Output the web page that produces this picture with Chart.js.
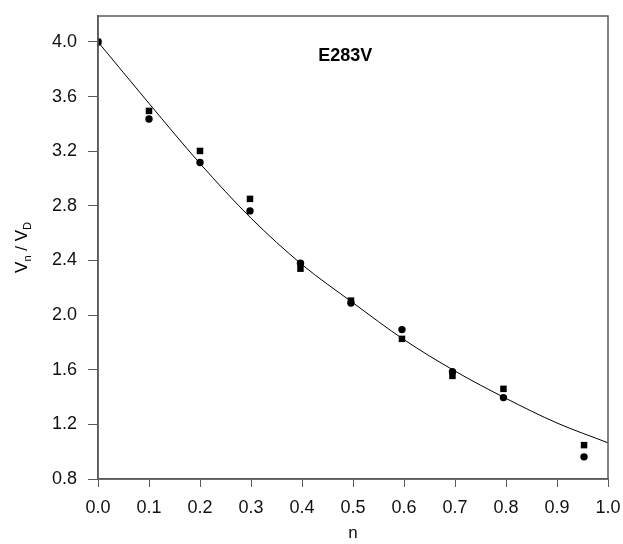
<!DOCTYPE html>
<html>
<head>
<meta charset="utf-8">
<script src="https://cdn.jsdelivr.net/npm/chart.js@4"></script>
<style>
  html, body { margin: 0; padding: 0; background: #fff; }
  #wrap { width: 623px; height: 544px; }
</style>
</head>
<body>
<div id="wrap"><canvas id="chart"></canvas></div>
<script>
// ── data ───────────────────────────────────────────────────────────
const nPoints = [0, 0.1, 0.2, 0.298, 0.397, 0.496, 0.596, 0.695, 0.795, 0.953];
const squares = [4.0, 3.495, 3.202, 2.851, 2.34, 2.106, 1.826, 1.555, 1.46, 1.048];
const circles = [4.0, 3.436, 3.117, 2.763, 2.38, 2.089, 1.894, 1.586, 1.396, 0.962];
const fitN = [0, 0.1, 0.2, 0.3, 0.4, 0.5, 0.6, 0.7, 0.8, 0.9, 1.0];
const fitV = [4.0, 3.55, 3.11, 2.71, 2.37, 2.09, 1.82, 1.59, 1.39, 1.21, 1.065];
const xTicks = [0, 0.1, 0.2, 0.3, 0.4, 0.5, 0.6, 0.7, 0.8, 0.9, 1.0];
const yTicks = [0.8, 1.2, 1.6, 2.0, 2.4, 2.8, 3.2, 3.6, 4.0];
const label = "E283V";

const FONT = "'Liberation Sans', Arial, sans-serif";
const AXIS = "#5a5a5a";
const pts = (xs, ys) => xs.map((x, i) => ({ x, y: ys[i] }));

// box on all four sides + panel label + y title with subscripts
const decor = {
  id: "decor",
  afterDraw(chart) {
    const { ctx, chartArea: a, scales } = chart;
    ctx.save();
    ctx.strokeStyle = AXIS;
    ctx.lineWidth = 1.5;
    ctx.strokeRect(a.left, a.top, a.right - a.left, a.bottom - a.top);

    ctx.fillStyle = "#000";
    ctx.font = "bold 18px " + FONT;
    ctx.textAlign = "center";
    ctx.textBaseline = "middle";
    ctx.fillText(label, scales.x.getPixelForValue(0.485), scales.y.getPixelForValue(3.895));

    // V_n / V_D, rotated
    ctx.translate(27, (a.top + a.bottom) / 2);
    ctx.rotate(-Math.PI / 2);
    const parts = [["V", 17, 0], ["n", 11, 4], [" / V", 17, 0], ["D", 11, 4]];
    let w = 0;
    parts.forEach(([t, s]) => { ctx.font = s + "px " + FONT; w += ctx.measureText(t).width; });
    let x = -w / 2;
    ctx.textAlign = "left";
    ctx.textBaseline = "alphabetic";
    parts.forEach(([t, s, dy]) => {
      ctx.font = s + "px " + FONT;
      ctx.fillText(t, x, dy);
      x += ctx.measureText(t).width;
    });
    ctx.restore();
  },
};

new Chart(document.getElementById("chart"), {
  type: "scatter",
  data: {
    datasets: [
      { label: "fit", type: "line", data: pts(fitN, fitV), borderColor: "#000", borderWidth: 1,
        pointRadius: 0, cubicInterpolationMode: "monotone", fill: false },
      { label: "squares", data: pts(nPoints, squares), pointStyle: "rect", pointRadius: 4.6,
        backgroundColor: "#000", borderColor: "#000", borderWidth: 0 },
      { label: "circles", data: pts(nPoints, circles), pointStyle: "circle", pointRadius: 3.7,
        backgroundColor: "#000", borderColor: "#000", borderWidth: 0 },
    ],
  },
  options: {
    responsive: true, maintainAspectRatio: false, animation: false,
    layout: { padding: { left: 0, right: 15, top: 16, bottom: 0 } },
    plugins: { legend: { display: false }, tooltip: { enabled: false } },
    scales: {
      x: {
        type: "linear", min: 0, max: 1,
        afterBuildTicks: (s) => { s.ticks = xTicks.map((v) => ({ value: v })); },
        afterFit: (s) => { s.height = 65; s.paddingLeft = 0; s.paddingRight = 0; },
        grid: { drawOnChartArea: false, tickLength: 8, color: AXIS, tickColor: AXIS },
        border: { color: AXIS, width: 1.5 },
        ticks: { color: "#111", padding: 10, font: { family: FONT, size: 18 }, callback: (v) => v.toFixed(1) },
        title: { display: true, text: "n", color: "#111", font: { family: FONT, size: 17 }, padding: { top: 10, bottom: 0 } },
      },
      y: {
        type: "linear", min: 0.8, max: 4.19,
        afterBuildTicks: (s) => { s.ticks = yTicks.map((v) => ({ value: v })); },
        afterFit: (s) => { s.width = 98; s.paddingTop = 0; s.paddingBottom = 0; },
        grid: { drawOnChartArea: false, tickLength: 10, color: AXIS, tickColor: AXIS },
        border: { color: AXIS, width: 1.5 },
        ticks: { color: "#111", padding: 11, font: { family: FONT, size: 18 }, callback: (v) => v.toFixed(1) },
      },
    },
  },
  plugins: [decor],
});
</script>
</body>
</html>
